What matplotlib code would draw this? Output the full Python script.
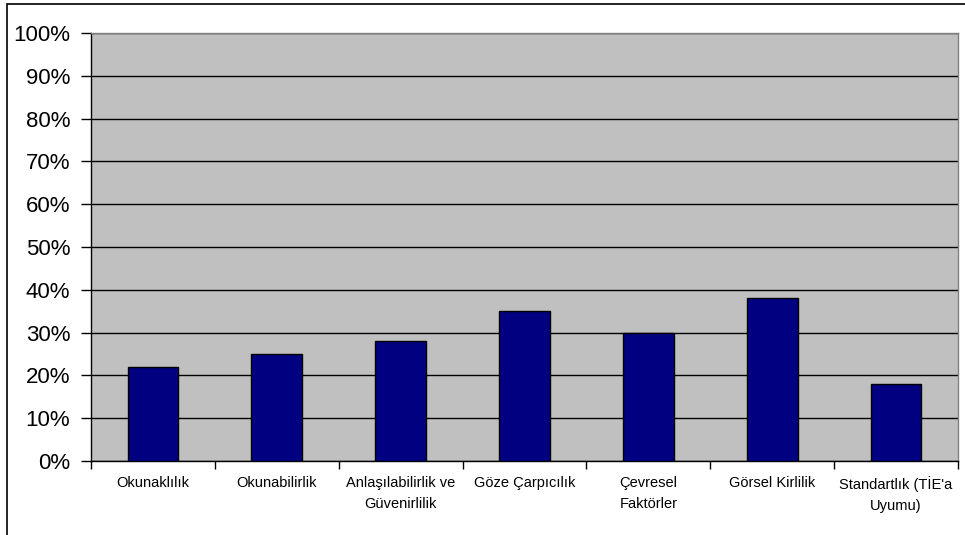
import matplotlib
matplotlib.use("Agg")
import matplotlib.pyplot as plt
from matplotlib.patches import Rectangle

plt.rcParams['font.family'] = ['Liberation Sans', 'DejaVu Sans']

categories = ["Okunaklılık", "Okunabilirlik", "Anlaşılabilirlik ve\nGüvenirlilik",
              "Göze Çarpıcılık", "Çevresel\nFaktörler", "Görsel Kirlilik",
              "Standartlık (TİE'a\nUyumu)"]
values = [22, 25, 28, 35, 30, 38, 18]
yticks = list(range(0, 101, 10))
ytick_labels = ["{}%".format(t) for t in yticks]

W, H = 965, 535
fig = plt.figure(figsize=(W / 100, H / 100), dpi=100)
fig.patch.set_facecolor("white")

# outer chart frame
fig.patches.append(Rectangle((7 / W, -0.1), 1.2, 1 - 4 / H + 0.1, transform=fig.transFigure,
                             fill=False, edgecolor="black", linewidth=1.2))

left, right, top, bottom = 91, 958, 33, 461
ax = fig.add_axes([left / W, 1 - bottom / H, (right - left) / W, (bottom - top) / H])
ax.set_facecolor("#C0C0C0")

x = list(range(len(categories)))
ax.bar(x, values, width=0.41, color="#000080", edgecolor="black", linewidth=1.0, zorder=3)

ax.set_xlim(-0.5, len(categories) - 0.5)
ax.set_ylim(0, 100)
ax.set_yticks(yticks)
ax.set_yticklabels(ytick_labels, fontsize=16)
ax.yaxis.grid(True, color="black", linewidth=1.0, zorder=1)
ax.set_axisbelow(True)

# category boundary ticks, labels centered in between
ax.set_xticks([i + 0.5 for i in range(-1, len(categories))])
ax.set_xticklabels([])
ax.set_xticks(x, minor=True)
ax.set_xticklabels(categories, minor=True, fontsize=10.5, linespacing=1.65)
ax.tick_params(axis="x", which="minor", length=0, pad=11)
ax.tick_params(axis="x", which="major", length=6, width=1.0, color="black", direction="out")
ax.tick_params(axis="y", length=7, width=1.0, color="black", pad=8)

for s in ["top", "right"]:
    ax.spines[s].set_color("#808080")
    ax.spines[s].set_linewidth(1.0)
for s in ["left", "bottom"]:
    ax.spines[s].set_color("black")
    ax.spines[s].set_linewidth(1.0)

fig.savefig("out.png", dpi=100)
